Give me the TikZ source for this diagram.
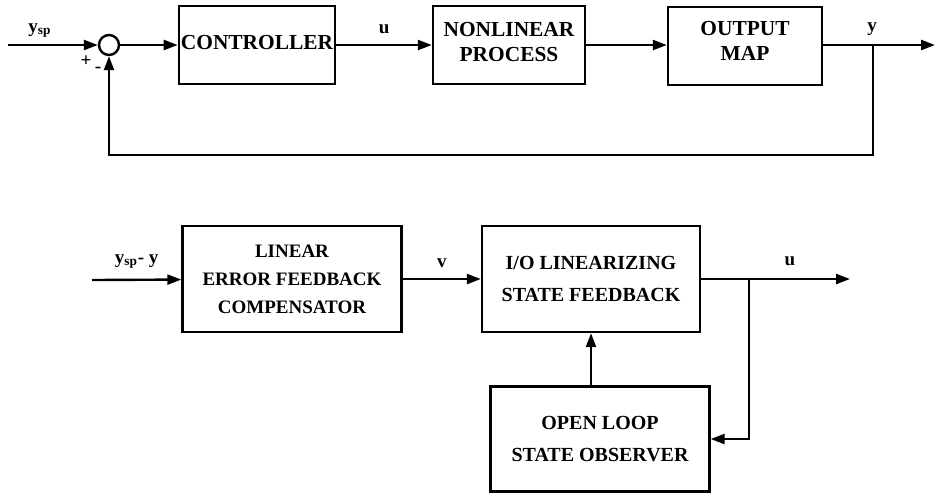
\documentclass[tikz,border=0pt]{standalone}
\usepackage{fontspec}
\setmainfont{Liberation Serif}
\usetikzlibrary{arrows.meta,calc}

\begin{document}
\begin{tikzpicture}[x=0.5pt,y=-0.5pt,
  blk/.style={draw,line width=1.2pt,align=center,inner sep=1pt,font=\bfseries\fontsize{10}{12}\selectfont},
  topblk/.style={blk,minimum width=76pt,minimum height=39pt,font=\bfseries\fontsize{10.7}{12.5}\selectfont},
  sig/.style={line width=1.2pt,-{Triangle[length=7pt,width=5pt]}},
  lbl/.style={font=\bfseries\fontsize{9.5}{11}\selectfont,inner sep=0pt}]
\useasboundingbox (0,0) rectangle (936,495);
% closed loop with output map
\coordinate (ysp) at (8,45);
\node[draw,circle,line width=1.2pt,minimum size=10pt,inner sep=0pt] (sum) at (109,45) {};
\node[topblk,text depth=2.5pt] (ctrl) at (257,45) {CONTROLLER};
\node[topblk,text depth=3.5pt] (proc) at (509,45) {NONLINEAR\\PROCESS};
\node[topblk,minimum width=77pt,text depth=5pt] (omap) at (745,46) {OUTPUT\\MAP};
\coordinate (ybr) at (873,45);
\coordinate (yout) at (935,45);
\coordinate (fb) at (873,155);
\node[lbl] (ysplab) at (40,31) {y\textsubscript{sp}};
\node[lbl] (plus) at (86,61) {+};
\node[lbl] (minus) at (98,70) {-};
\node[lbl] (ylab) at (872,29) {y};
\draw[sig] (ysp) -- (sum.west);
\draw[sig] (sum) -- (ctrl);
\draw[sig] (ctrl) -- node[lbl,above=5pt] (ulab) {u} (proc);
\draw[sig] (proc) -- (proc -| omap.west);
\draw[sig] (omap.east |- ybr) -- (yout);
\draw[sig] (ybr) -- (fb) -| (sum.south);
% I/O linearizing control law
\coordinate (ein) at (92,280);
\node[blk,font=\bfseries\fontsize{9.5}{14}\selectfont,minimum width=109.5pt,minimum height=53pt] (lin) at (292,279) {LINEAR\\ERROR FEEDBACK\\COMPENSATOR};
\node[blk,minimum width=109pt,minimum height=53pt] (iol) at (591,279) {I/O LINEARIZING\\[4pt]STATE FEEDBACK};
\node[blk,minimum width=109.5pt,minimum height=52.5pt] (obs) at (600,439) {OPEN LOOP\\[4pt]STATE OBSERVER};
\coordinate (ubr) at (749,279);
\coordinate (uout) at (850,279);
\draw[sig] (ein) -- node[lbl,above=5pt] (elab) {y\textsubscript{sp}- y} (lin);
\draw[sig] (lin) -- node[lbl,above=5pt] (vlab) {v} (iol);
\draw[sig] (iol) -- (uout);
\node[lbl] (ulab2) at (790,261) {u};
\draw[sig] (ubr) |- (obs.east);
\draw[sig] (obs.north -| iol.south) -- (iol.south);
\end{tikzpicture}
\end{document}
